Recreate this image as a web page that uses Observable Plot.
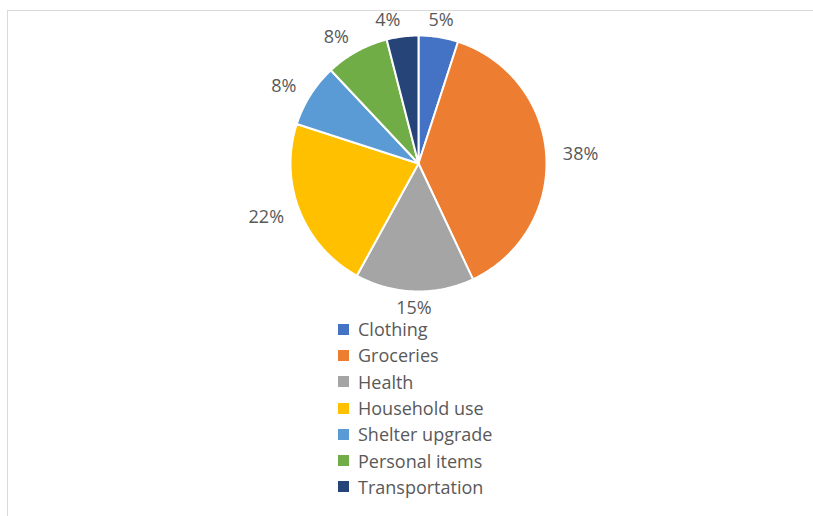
<!DOCTYPE html>
<html>
<head>
<meta charset="utf-8">
<script src="https://cdn.jsdelivr.net/npm/d3@7"></script>
<script src="https://cdn.jsdelivr.net/npm/@observablehq/plot@0.6"></script>
<style>
  html, body { margin: 0; padding: 0; background: #fff; width: 813px; height: 516px; overflow: hidden; }
  body { position: relative; font-family: "Open Sans", sans-serif; }
  #frame { position: absolute; left: 7px; top: 10px; width: 820px; height: 520px;
           border-top: 1px solid #d9d9d9; border-left: 1px solid #d9d9d9; box-sizing: border-box; }
  #chart { position: absolute; left: 0; top: 0; }
  #legend { position: absolute; left: 338px; top: 316px; z-index: 2; }
  .row { display: flex; align-items: center; height: 26.3px; font-size: 18px; color: #595959; }
  .sw { width: 11px; height: 11px; margin-right: 9px; }
</style>
</head>
<body>
<div id="frame"></div>
<div id="chart"></div>
<div id="legend"></div>
<script>
const categories = ["Clothing", "Groceries", "Health", "Household use", "Shelter upgrade", "Personal items", "Transportation"];
const values = [5, 38, 15, 22, 8, 8, 4];
const labels = ["5%", "38%", "15%", "22%", "8%", "8%", "4%"];
const colors = ["#4472C4", "#ED7D31", "#A5A5A5", "#FFC000", "#5B9BD5", "#70AD47", "#264478"];

const pie = d3.pie().sort(null).value(d => d.value)(categories.map((c, i) => ({name: c, value: values[i], label: labels[i]})));

// polygon points for each slice (unit circle, angle clockwise from top)
const pts = [];
for (const a of pie) {
  const name = a.data.name;
  pts.push({name, x: 0, y: 0});
  const n = Math.max(2, Math.ceil((a.endAngle - a.startAngle) / 0.01));
  for (let k = 0; k <= n; k++) {
    const t = a.startAngle + (a.endAngle - a.startAngle) * k / n;
    pts.push({name, x: Math.sin(t), y: -Math.cos(t)});
  }
  pts.push({name, x: 0, y: 0});
}

const labelR = 1.13;
const lab = pie.map(a => {
  const m = (a.startAngle + a.endAngle) / 2;
  const sx = Math.sin(m), cy = -Math.cos(m);
  return {text: a.data.label, x: sx * labelR, y: cy * labelR,
          anchor: sx > 0.3 ? "start" : sx < -0.1 ? "end" : "middle"};
});

const cx = 418, cyc = 163, r = 128;
const chart = Plot.plot({
  width: 813,
  height: 330,
  margin: 0,
  x: {domain: [-1, 1], range: [cx - r, cx + r], axis: null},
  y: {domain: [-1, 1], range: [cyc - r, cyc + r], axis: null},
  color: {domain: categories, range: colors},
  style: {fontFamily: "Open Sans, sans-serif", background: "transparent"},
  marks: [
    Plot.line(pts, {x: "x", y: "y", z: "name", fill: "name", stroke: "white", strokeWidth: 2, strokeLinejoin: "round"}),
    ...["start", "end", "middle"].map(anc =>
      Plot.text(lab.filter(d => d.anchor === anc), {
        x: "x", y: "y", text: "text", textAnchor: anc,
        lineAnchor: "middle",
        fill: "#595959", fontSize: 18
      })
    )
  ]
});
document.getElementById("chart").appendChild(chart);

const legend = document.getElementById("legend");
categories.forEach((c, i) => {
  const row = document.createElement("div");
  row.className = "row";
  const sw = document.createElement("span");
  sw.className = "sw";
  sw.style.background = colors[i];
  const t = document.createElement("span");
  t.textContent = c;
  row.appendChild(sw); row.appendChild(t);
  legend.appendChild(row);
});
</script>
</body>
</html>
